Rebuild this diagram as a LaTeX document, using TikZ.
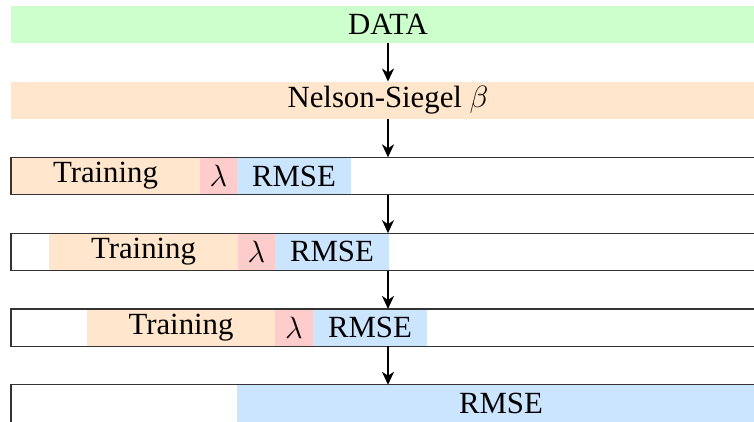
\RequirePackage{fix-cm}
\documentclass[tikz,border=0pt]{standalone}
\usepackage{fontspec}
\setmainfont{Liberation Serif}
\usetikzlibrary{arrows.meta}
\definecolor{cgreen}{RGB}{204,255,204}
\definecolor{corange}{RGB}{255,230,204}
\definecolor{cred}{RGB}{255,204,204}
\definecolor{cblue}{RGB}{204,229,255}
\begin{document}
\begin{tikzpicture}[x=1pt,y=-1pt, font=\fontsize{30.8}{36}\selectfont,
  seg/.style={anchor=west, inner sep=0, outer sep=0, minimum height=37.5},
  frame/.style={anchor=west, inner sep=0, outer sep=0, minimum height=37.5, minimum width=754, draw=black!80, line width=1.2},
  flow/.style={line width=2, -{Stealth[length=13,width=12,inset=4]}}]
\useasboundingbox (0,0) rectangle (754,421);
\clip (0,0) rectangle (754,421);

\node[seg, fill=cgreen, minimum width=754] (data) at (11,24.5) {DATA};
\node[seg, fill=corange, minimum width=754] (ns) at (11,100.3) {Nelson-Siegel $\beta$};

% row 1
\node[seg, fill=corange, minimum width=189] (t1) at (11,176.1) {Training};
\node[seg, fill=cred, minimum width=37] (l1) at (t1.east) {$\lambda$};
\node[seg, fill=cblue, minimum width=114] (r1) at (l1.east) {RMSE};
\node[frame] (row1) at (11,176.1) {};

% row 2
\node[seg, fill=corange, minimum width=189] (t2) at (49,251.9) {Training};
\node[seg, fill=cred, minimum width=37] (l2) at (t2.east) {$\lambda$};
\node[seg, fill=cblue, minimum width=114] (r2) at (l2.east) {RMSE};
\node[frame] (row2) at (11,251.9) {};

% row 3
\node[seg, fill=corange, minimum width=188] (t3) at (87,327.7) {Training};
\node[seg, fill=cred, minimum width=38] (l3) at (t3.east) {$\lambda$};
\node[seg, fill=cblue, minimum width=114] (r3) at (l3.east) {RMSE};
\node[frame] (row3) at (11,327.7) {};

% row 4
\node[seg, fill=cblue, minimum width=528] (r4) at (237,403.5) {RMSE};
\node[frame] (row4) at (11,403.5) {};

\draw[flow] (data.south) -- (ns.north);
\draw[flow] (ns.south) -- (row1.north);
\draw[flow] (row1.south) -- (row2.north);
\draw[flow] (row2.south) -- (row3.north);
\draw[flow] (row3.south) -- (row4.north);
\end{tikzpicture}
\end{document}
